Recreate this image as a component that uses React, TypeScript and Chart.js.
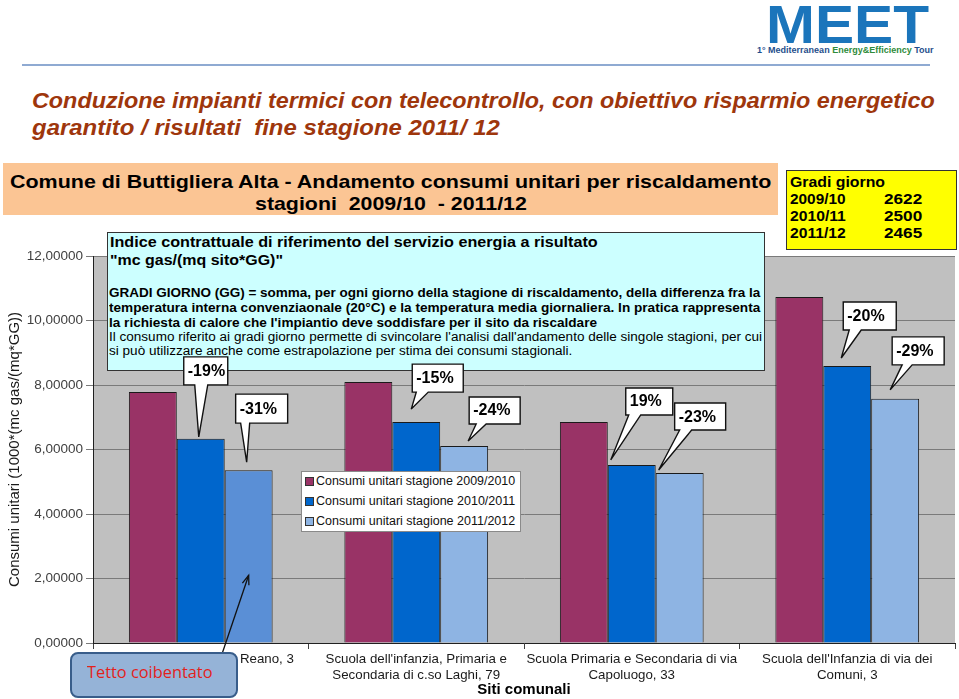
import React, { useEffect, useLayoutEffect, useRef, useState } from "react";
import { Chart, registerables } from "chart.js";

Chart.register(...registerables);

// ---------- data ----------
const categories: string[][] = [
  ["Scuola Primaria di via Reano, 3"],
  ["Scuola dell'infanzia, Primaria e", "Secondaria di c.so Laghi, 79"],
  ["Scuola Primaria e Secondaria di via", "Capoluogo, 33"],
  ["Scuola dell'Infanzia di via dei", "Comuni, 3"],
];
const seriesLabels = [
  "Consumi unitari stagione 2009/2010",
  "Consumi unitari stagione 2010/2011",
  "Consumi unitari stagione 2011/2012",
];
const consumi2009 = [7.78, 8.09, 6.85, 10.73];
const consumi2010 = [6.33, 6.85, 5.52, 8.59];
const consumi2011 = [5.36, 6.11, 5.27, 7.57];
const yMin = 0;
const yMax = 12;
const yStep = 2;
const calloutTexts = ["-19%", "-31%", "-15%", "-24%", "19%", "-23%", "-20%", "-29%"];
const degreeDays: [string, string][] = [
  ["2009/10", "2622"],
  ["2010/11", "2500"],
  ["2011/12", "2465"],
];
const arrowTipValue = 2.1;

// ---------- styles ----------
const colMaroon = "#993366";
const colBlue = "#0066CC";
const colLight = "#8EB4E3";
const colLightRoof = "#5A8FD6";
const seriesColors = [colMaroon, colBlue, colLight];
const SANS = '"Liberation Sans", Arial, sans-serif';

// callout layout: dataset, index, tip offset from bar top-centre, box relative to tip
const calloutLayout = [
  { ds: 1, idx: 0, tdx: -2, tdy: -2, bl: -15, bt: -80, bw: 44, bh: 28, b0: 11, b1: 24 },
  { ds: 2, idx: 0, tdx: -2, tdy: -8, bl: -11, bt: -68, bw: 52, bh: 29, b0: 5, b1: 14 },
  { ds: 1, idx: 1, tdx: -5, tdy: -13, bl: 1, bt: -45, bw: 51, bh: 28, b0: 4, b1: 16 },
  { ds: 2, idx: 1, tdx: 4, tdy: -5, bl: 1, bt: -44, bw: 51, bh: 27, b0: 7, b1: 17 },
  { ds: 1, idx: 2, tdx: -21, tdy: -5, bl: 15, bt: -72, bw: 47, bh: 27, b0: 3, b1: 15 },
  { ds: 2, idx: 2, tdx: -21, tdy: -3, bl: 16, bt: -67, bw: 51, bh: 27, b0: 5, b1: 17 },
  { ds: 1, idx: 3, tdx: -6, tdy: -8, bl: 2, bt: -56, bw: 53, bh: 28, b0: 6, b1: 18 },
  { ds: 2, idx: 3, tdx: -5, tdy: -9, bl: 2, bt: -53, bw: 52, bh: 28, b0: 10, b1: 20 },
];

type FitProps = {
  text: string;
  x: number;
  cy: number;
  w: number;
  size: number;
  bold?: boolean;
  italic?: boolean;
  color?: string;
  family?: string;
};

function FitLine({ text, x, cy, w, size, bold, italic, color, family }: FitProps) {
  const ref = useRef<HTMLSpanElement>(null);
  const [k, setK] = useState(1);
  useLayoutEffect(() => {
    const el = ref.current;
    if (el) {
      const nat = el.offsetWidth;
      if (nat > 0) setK(w / nat);
    }
  }, [text, w, size]);
  return (
    <span
      ref={ref}
      style={{
        position: "absolute",
        left: x,
        top: cy - 0.49 * size,
        whiteSpace: "pre",
        fontSize: size,
        lineHeight: `${size}px`,
        fontWeight: bold ? "bold" : "normal",
        fontStyle: italic ? "italic" : "normal",
        color: color || "#000",
        fontFamily: family || SANS,
        transform: `scaleX(${k})`,
        transformOrigin: "left top",
      }}
    >
      {text}
    </span>
  );
}

type BarPos = { x: number; y: number; w: number };

const plotBg = {
  id: "plotBg",
  beforeDraw(chart: any) {
    const { ctx, chartArea } = chart;
    ctx.save();
    ctx.fillStyle = "#C0C0C0";
    ctx.fillRect(chartArea.left, chartArea.top, chartArea.right - chartArea.left, chartArea.bottom - chartArea.top);
    ctx.restore();
  },
};

export default function App() {
  const canvasRef = useRef<HTMLCanvasElement>(null);
  const [bars, setBars] = useState<BarPos[][] | null>(null);
  const [arrowTipY, setArrowTipY] = useState<number>(0);

  useEffect(() => {
    if (!canvasRef.current) return;
    const chart = new Chart(canvasRef.current, {
      type: "bar",
      data: {
        labels: categories,
        datasets: [
          { label: seriesLabels[0], data: consumi2009, backgroundColor: colMaroon },
          { label: seriesLabels[1], data: consumi2010, backgroundColor: colBlue },
          {
            label: seriesLabels[2],
            data: consumi2011,
            backgroundColor: consumi2011.map((_, i) => (i === 0 ? colLightRoof : colLight)),
          },
        ].map((d) => ({
          ...d,
          borderColor: "#1a1a1a",
          borderWidth: 1,
          categoryPercentage: 0.667,
          barPercentage: 1.0,
        })),
      },
      options: {
        animation: false,
        responsive: true,
        maintainAspectRatio: false,
        layout: { padding: { top: 256, right: 4, left: 0, bottom: 0 } },
        plugins: { legend: { display: false }, tooltip: { enabled: false } },
        scales: {
          x: {
            offset: true,
            grid: { offset: true, drawOnChartArea: false, tickLength: 6, color: "#404040" },
            border: { color: "#202020", width: 1 },
            ticks: {
              maxRotation: 0,
              autoSkip: false,
              padding: 3,
              color: "#1a1a1a",
              font: { family: SANS, size: 13.3, lineHeight: 1.15 },
            },
            title: {
              display: true,
              text: "Siti comunali",
              color: "#000",
              font: { family: SANS, size: 15, weight: "bold" },
              padding: { top: 0, bottom: 0 },
            },
            afterFit(scale: any) {
              scale.height = 56;
            },
          },
          y: {
            min: yMin,
            max: yMax,
            ticks: {
              stepSize: yStep,
              padding: 3,
              color: "#404040",
              font: { family: SANS, size: 13.5 },
              callback: (v: any) => Number(v).toFixed(5).replace(".", ","),
            },
            grid: { color: "#7a7a7a", tickLength: 7, lineWidth: 1 },
            border: { color: "#202020", width: 1 },
            title: {
              display: true,
              text: "Consumi unitari (1000*(mc gas/(mq*GG))",
              color: "#1a1a1a",
              font: { family: SANS, size: 15 },
              padding: { top: 6, bottom: 0 },
            },
            afterFit(scale: any) {
              scale.width = 93;
            },
          },
        },
      },
      plugins: [plotBg],
    });
    const pos: BarPos[][] = [0, 1, 2].map((di) =>
      chart.getDatasetMeta(di).data.map((el: any) => ({ x: el.x, y: el.y, w: el.width }))
    );
    setBars(pos);
    setArrowTipY(chart.scales.y.getPixelForValue(arrowTipValue));
    return () => chart.destroy();
  }, []);

  const cyanLines: { t: string; x: number; cy: number; w: number; s: number; b: boolean }[] = [
    { t: "Indice contrattuale di riferimento del servizio energia a risultato", x: 110, cy: 242, w: 488, s: 15.5, b: true },
    { t: "\"mc gas/(mq sito*GG)\"", x: 110, cy: 260, w: 173, s: 15.5, b: true },
    { t: "GRADI GIORNO (GG) = somma, per ogni giorno della stagione di riscaldamento, della differenza fra la", x: 109, cy: 293, w: 651, s: 12.5, b: true },
    { t: "temperatura interna convenziaonale (20°C) e la temperatura media giornaliera. In pratica rappresenta", x: 109, cy: 308, w: 651, s: 12.5, b: true },
    { t: "la richiesta di calore che l'impiantio deve soddisfare per il sito da riscaldare", x: 109, cy: 323, w: 488, s: 12.5, b: true },
    { t: "Il consumo riferito ai gradi giorno permette di svincolare l'analisi dall'andamento delle singole stagioni, per cui", x: 109, cy: 337, w: 653, s: 12.5, b: false },
    { t: "si può utilizzare anche come estrapolazione per stima dei consumi stagionali.", x: 109, cy: 351, w: 463, s: 12.5, b: false },
  ];

  return (
    <div style={{ position: "fixed", left: 0, top: 0, width: 959, height: 699, background: "#fff", overflow: "hidden" }}>
      {/* logo */}
      <FitLine text="MEET" x={766} cy={23} w={163} size={54} bold color="#1B75BB" />
      <span style={{ position: "absolute", left: 757, top: 45, fontFamily: SANS, fontSize: 9, fontWeight: "bold", whiteSpace: "pre", color: "#1F4E8C" }}>
        1° Mediterranean <span style={{ color: "#2E8B3A" }}>Energy&amp;Efficiency</span> Tour
      </span>
      <div style={{ position: "absolute", left: 22, top: 64, width: 908, height: 2, background: "#8FAAD2" }} />

      {/* title */}
      <FitLine text="Conduzione impianti termici con telecontrollo, con obiettivo risparmio energetico" x={32} cy={101} w={903} size={22} bold italic color="#9E360C" />
      <FitLine text="garantito / risultati  fine stagione 2011/ 12" x={32} cy={128} w={468} size={22} bold italic color="#9E360C" />

      {/* chart */}
      <div style={{ position: "absolute", left: 0, top: 0, width: 959, height: 699, zIndex: 1 }}>
        <canvas ref={canvasRef} />
      </div>

      {/* banner */}
      <div style={{ position: "absolute", left: 3, top: 163, width: 775, height: 52, background: "#FBC594", zIndex: 2 }} />
      <div style={{ position: "absolute", left: 0, top: 0, zIndex: 2 }}>
        <FitLine text="Comune di Buttigliera Alta - Andamento consumi unitari per riscaldamento" x={10} cy={181} w={761} size={19} bold />
        <FitLine text="stagioni  2009/10  - 2011/12" x={255} cy={203} w={272} size={19} bold />
      </div>

      {/* degree days box */}
      <div style={{ position: "absolute", left: 786, top: 170, width: 169, height: 78, background: "#FFFF00", border: "1px solid #333", zIndex: 2 }} />
      <div style={{ position: "absolute", left: 0, top: 0, zIndex: 2 }}>
        <FitLine text="Gradi giorno" x={790} cy={182} w={95} size={14} bold />
        {degreeDays.map((r, i) => (
          <React.Fragment key={r[0]}>
            <FitLine text={r[0]} x={790} cy={199 + i * 17} w={56} size={14} bold />
            <FitLine text={r[1]} x={884} cy={199 + i * 17} w={38} size={14} bold />
          </React.Fragment>
        ))}
      </div>

      {/* cyan note */}
      <div style={{ position: "absolute", left: 107, top: 232, width: 656, height: 137, background: "#CCFFFF", border: "1px solid #333", zIndex: 2 }} />
      <div style={{ position: "absolute", left: 0, top: 0, zIndex: 2 }}>
        {cyanLines.map((l) => (
          <FitLine key={l.t} text={l.t} x={l.x} cy={l.cy} w={l.w} size={l.s} bold={l.b} />
        ))}
      </div>

      {/* legend */}
      <div style={{ position: "absolute", left: 301, top: 471, width: 218, height: 59, background: "#fff", border: "1px solid #8a8a8a", zIndex: 2 }} />
      <div style={{ position: "absolute", left: 0, top: 0, zIndex: 2 }}>
        {seriesLabels.map((s, i) => (
          <React.Fragment key={s}>
            <div style={{ position: "absolute", left: 305, top: 477 + i * 20, width: 7, height: 7, background: seriesColors[i], border: "1px solid #333" }} />
            <FitLine text={s} x={316} cy={481 + i * 20} w={199} size={12.5} color="#111" />
          </React.Fragment>
        ))}
      </div>

      {/* callouts + arrow */}
      {bars && (
        <svg width={959} height={699} style={{ position: "absolute", left: 0, top: 0, zIndex: 3, pointerEvents: "none" }}>
          {calloutLayout.map((c, i) => {
            const b = bars[c.ds][c.idx];
            const tx = b.x + c.tdx;
            const ty = b.y + c.tdy;
            const l = tx + c.bl;
            const t = ty + c.bt;
            const d = `M ${l} ${t} L ${l + c.bw} ${t} L ${l + c.bw} ${t + c.bh} L ${l + c.b1} ${t + c.bh} L ${tx} ${ty} L ${l + c.b0} ${t + c.bh} L ${l} ${t + c.bh} Z`;
            return (
              <g key={i}>
                <path d={d} fill="#fff" stroke="#111" strokeWidth={1.4} strokeLinejoin="miter" />
                <text x={l + 4} y={t + c.bh / 2 + 5} fontFamily={SANS} fontSize={16} fontWeight="bold" fill="#000">
                  {calloutTexts[i]}
                </text>
              </g>
            );
          })}
          {(() => {
            const tip = { x: bars[2][0].x, y: arrowTipY };
            const tail = { x: 222, y: 654 };
            const ang = Math.atan2(tail.y - tip.y, tail.x - tip.x);
            const L = 10;
            const a1 = ang + 0.35;
            const a2 = ang - 0.35;
            return (
              <g stroke="#111" strokeWidth={1.3} fill="none">
                <line x1={tail.x} y1={tail.y} x2={tip.x} y2={tip.y} />
                <polyline
                  points={`${tip.x + L * Math.cos(a1)},${tip.y + L * Math.sin(a1)} ${tip.x},${tip.y} ${tip.x + L * Math.cos(a2)},${tip.y + L * Math.sin(a2)}`}
                />
              </g>
            );
          })()}
        </svg>
      )}

      {/* roof note */}
      <div
        style={{
          position: "absolute",
          left: 70,
          top: 652,
          width: 164,
          height: 42,
          background: "#95B3D7",
          border: "2px solid #385D8A",
          borderRadius: 8,
          zIndex: 4,
        }}
      />
      <div style={{ position: "absolute", left: 0, top: 0, zIndex: 4 }}>
        <FitLine text="Tetto coibentato" x={87} cy={671} w={126} size={17} color="#E3221B" family='"Open Sans", Lato, sans-serif' />
      </div>
    </div>
  );
}
